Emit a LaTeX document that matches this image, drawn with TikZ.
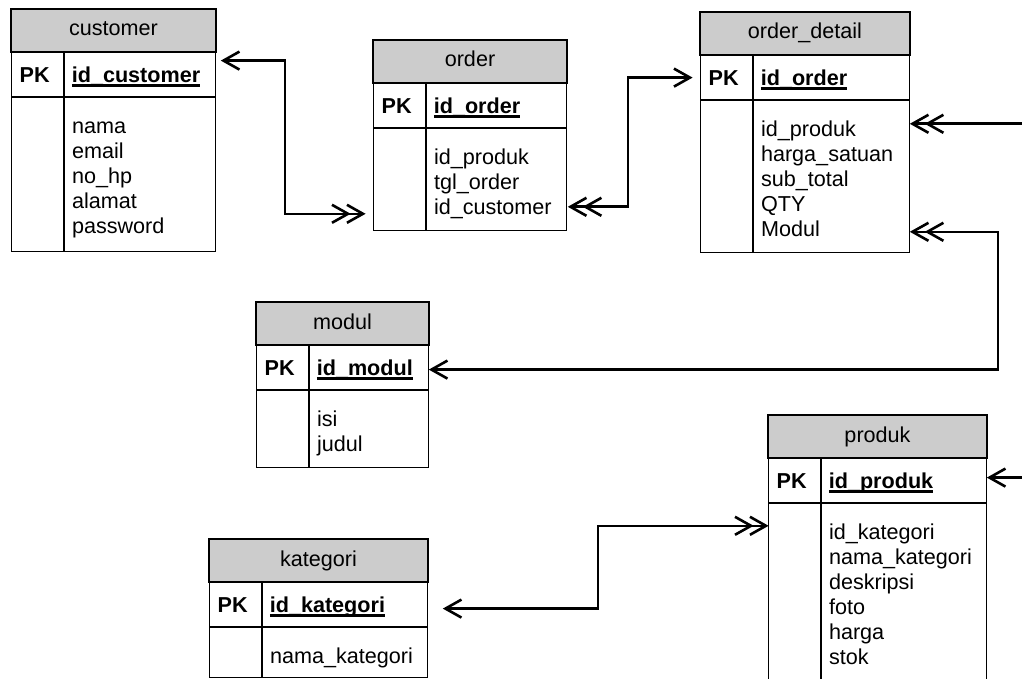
\documentclass[tikz,border=0pt]{standalone}
\usepackage{fontspec}
\setmainfont{Liberation Sans}
\usetikzlibrary{matrix,arrows.meta}

\newcommand\keyattr[1]{\textbf{\setbox0\hbox{#1}\rlap{\rule[-4pt]{\wd0}{2.4pt}}\box0}}

\begin{document}
\begin{tikzpicture}[x=1pt, y=1pt, font=\fontsize{21.6}{25}\selectfont,
    one/.tip={Straight Barb[length=16pt,width=18pt]},
    many/.tip={Straight Barb[length=16pt,width=18pt,sep=-5pt] Straight Barb[length=16pt,width=18pt]},
    link/.style={line width=2.6pt},
    tbl/.style 2 args={matrix of nodes, anchor=north west, inner sep=0pt, outer sep=0pt,
        column sep=0pt, row sep=0pt, nodes in empty cells,
        nodes={draw, line width=1.2pt, anchor=center, outer sep=0pt, align=left,
            inner ysep=0pt, text height=16pt, text depth=0pt},
        column 1/.style={nodes={text width=36pt, inner xsep=8pt}},
        column 2/.style={nodes={text width=#1, inner xsep=7pt}},
        row 1/.style={nodes={minimum height=44pt}},
        row 2/.style={nodes={minimum height=#2}}},
    head/.style={draw, line width=1.2pt, fill=gray!40, anchor=south west, minimum height=43pt,
        inner sep=0pt, outer sep=0pt, text height=11pt, text depth=0pt},
    attr/.style={anchor=north west, align=left, inner xsep=7pt, inner ysep=18pt}]

    \useasboundingbox (0,0) rectangle (1022,-679);
    \clip (0,0) rectangle (1022,-679);
    \coordinate (rim) at (1040,0);

    % customer
    \matrix[tbl={137pt}{154pt}] (cust) at (11,-52) {
    \textbf{PK} & \keyattr{id\_customer} \\
                & \\};
    \node[head, minimum width=205pt] (cust-h) at (cust.north west) {customer};
    \node[attr] (cust-at) at (cust-2-2.north west) {\strut nama\\email\\no\_hp\\alamat\\password};

    % order
    \matrix[tbl={126pt}{102pt}] (ord) at (373,-83) {
    \textbf{PK} & \keyattr{id\_order} \\
                & \\};
    \node[head, minimum width=194pt] (ord-h) at (ord.north west) {order};
    \node[attr] (ord-at) at (ord-2-2.north west) {\strut id\_produk\\tgl\_order\\id\_customer};

    % order_detail
    \matrix[tbl={142pt}{152pt}] (od) at (700,-55) {
    \textbf{PK} & \keyattr{id\_order} \\
                & \\};
    \node[head, minimum width=210pt] (od-h) at (od.north west) {order\_detail};
    \node[attr] (od-at) at (od-2-2.north west) {\strut id\_produk\\harga\_satuan\\sub\_total\\QTY\\Modul};

    % modul
    \matrix[tbl={105pt}{77pt}] (mod) at (256,-345) {
    \textbf{PK} & \keyattr{id\_modul} \\
                & \\};
    \node[head, minimum width=173pt] (mod-h) at (mod.north west) {modul};
    \node[attr] (mod-at) at (mod-2-2.north west) {\strut isi\\judul};

    % produk
    \matrix[tbl={151pt}{190pt}] (prod) at (768,-458) {
    \textbf{PK} & \keyattr{id\_produk} \\
                & \\};
    \node[head, minimum width=219pt] (prod-h) at (prod.north west) {produk};
    \node[attr] (prod-at) at (prod-2-2.north west) {\strut id\_kategori\\nama\_kategori\\deskripsi\\foto\\harga\\stok};

    % kategori
    \matrix[tbl={151pt}{50pt}] (kat) at (209,-582) {
    \textbf{PK} & \keyattr{id\_kategori} \\
                & \\};
    \node[head, minimum width=219pt] (kat-h) at (kat.north west) {kategori};
    \node[attr] (kat-at) at (kat-2-2.north west) {\strut nama\_kategori};

    % relations
    \draw[link, one-many] ([xshift=5pt,yshift=14pt]cust-1-2.east) -- ++(64,0) |- ([xshift=-8pt,yshift=-34pt]ord-2-1.west);
    \draw[link, many-one] ([xshift=1pt,yshift=-27pt]ord-2-2.east) -- ++(60,0) |- ([xshift=-8pt]od-1-1.west);
    \coordinate (od-in) at ([yshift=53pt]od-2-2.east);
    \draw[link, many-] (od-in) -- (od-in -| rim);
    \draw[link, many-one] ([yshift=-55pt]od-2-2.east) -- ++(88,0) |- ([yshift=-2pt]mod-1-2.east);
    \coordinate (prod-in) at ([yshift=3pt]prod-1-2.east);
    \draw[link, one-] (prod-in) -- (prod-in -| rim);
    \draw[link, one-many] ([xshift=15pt,yshift=-4pt]kat-1-2.east) -- ++(155,0) |- ([yshift=73pt]prod-2-1.west);
\end{tikzpicture}
\end{document}
